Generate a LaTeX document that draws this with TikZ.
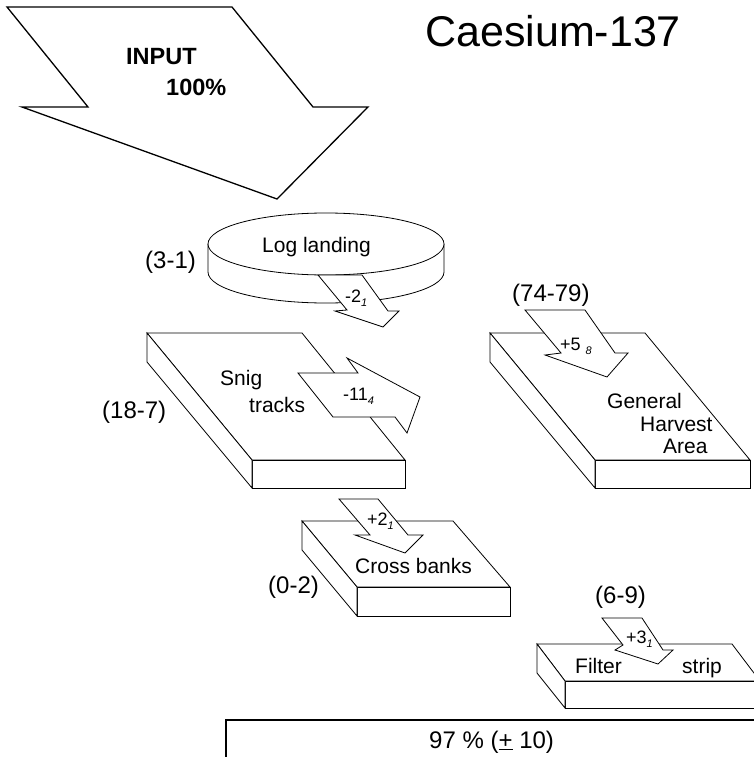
\documentclass[tikz,border=0pt]{standalone}
\usepackage{fontspec}
\setmainfont{Liberation Sans}
\begin{document}
\begin{tikzpicture}[x=1pt,y=-1pt,
  face/.style={draw=black,fill=white,line width=0.8pt,line join=miter},
  flow/.style={draw=black,fill=white,line width=0.8pt,line join=miter},
  bigflow/.style={draw=black,fill=white,line width=1.3pt,line join=miter},
  body/.style={inner sep=0pt,anchor=base west,font=\fontsize{21}{25}\selectfont},
  lab/.style={inner sep=0pt,anchor=base west,font=\fontsize{24}{28}\selectfont},
  flab/.style={inner sep=0pt,anchor=base west,font=\fontsize{18}{21}\selectfont}]
\useasboundingbox (0,0) rectangle (754,757);
\clip (0,0) rectangle (754,757);
\newcommand{\sub}[1]{\raisebox{-4pt}{\fontsize{11}{13}\selectfont\itshape #1}}

% title
\node[inner sep=0pt,anchor=base west,font=\fontsize{43}{49}\selectfont] (title) at (425,47) {Caesium-137};

% input arrow
\draw[bigflow] (7,7) -- (232,7) -- (313,107) -- (368,107) -- (277,199) -- (22,107) -- (88,107) -- cycle;
\node[inner sep=0pt,anchor=base west,font=\fontsize{23.5}{27}\selectfont\bfseries] (input) at (126,65) {INPUT};
\node[inner sep=0pt,anchor=base west,font=\fontsize{23.5}{27}\selectfont\bfseries] (inpct) at (166,96) {100\%};

% log landing cylinder
\draw[face] (208,244) -- (208,272) arc[start angle=180,end angle=0,x radius=118,y radius=31] -- (444,244);
\draw[face] (326,244) ellipse[x radius=118,y radius=31];
\node[body] (loglanding) at (262,252) {Log landing};
\node[lab] (l31) at (145,268) {(3-1)};

% snig tracks slab
\draw[face] (147,333) -- (302,333) -- (405,460) -- (252,460) -- cycle;
\draw[face] (252,460) rectangle (405,488);
\draw[face] (147,333) -- (252,460) -- (252,488) -- (147,362) -- cycle;
\node[body] (snig) at (220,385) {Snig};
\node[body] (tracks) at (249,412) {tracks};
\node[lab] (l187) at (102,418) {(18-7)};

% general harvest area slab
\draw[face] (490,333) -- (645,333) -- (750,460) -- (595,460) -- cycle;
\draw[face] (595,460) rectangle (750,488);
\draw[face] (490,333) -- (595,460) -- (595,488) -- (490,362) -- cycle;
\node[body] (general) at (607,408) {General};
\node[body] (harvest) at (640,431) {Harvest};
\node[body] (area) at (663,453) {Area};
\node[lab] (l7479) at (512,301) {(74-79)};

% cross banks slab
\draw[face] (302,521) -- (453,521) -- (510,587) -- (357,587) -- cycle;
\draw[face] (357,587) rectangle (510,616);
\draw[face] (302,521) -- (357,587) -- (357,616) -- (302,550) -- cycle;
\node[body] (cross) at (355,573) {Cross banks};
\node[lab] (l02) at (268,593) {(0-2)};

% filter strip slab
\draw[face] (537,644) -- (732,644) -- (760,681) -- (565,681) -- cycle;
\draw[face] (565,681) rectangle (770,708);
\draw[face] (537,644) -- (565,681) -- (565,708) -- (537,673) -- cycle;
\node[body] (filter) at (575,673) {Filter};
\node[body] (strip) at (682,673) {strip};
\node[lab] (l69) at (595,603) {(6-9)};

% flow arrows
\draw[flow] (318,275) -- (362,275) -- (388,311) -- (399,311) -- (383,327) -- (335,311) -- (347,310) -- cycle;
\node[flab] (f2) at (345,302) {-2\sub{1}};

\draw[flow] (298,373) -- (358,373) -- (347,358) -- (420,397) -- (407,433) -- (395,417) -- (333,417) -- cycle;
\node[flab] (f11) at (343,400) {-11\sub{4}};

\draw[flow] (525,310) -- (585,310) -- (615,353) -- (628,353) -- (607,377) -- (545,355) -- (561,353) -- cycle;
\node[flab] (f5) at (560,350) {+5\hspace{5pt}\sub{8}};

\draw[flow] (339,499) -- (378,499) -- (408,535) -- (423,535) -- (405,553) -- (355,535) -- (370,535) -- cycle;
\node[flab] (f2b) at (367,525) {+2\sub{1}};

\draw[flow] (602,618) -- (642,618) -- (663,650) -- (673,650) -- (658,664) -- (615,650) -- (623,645) -- cycle;
\node[flab] (f3) at (626,643) {+3\sub{1}};

% total box
\draw[line width=1.2pt] (226,720) rectangle (780,780);
\node[lab] (total) at (429,748) {97 \% (\underline{+} 10)};
\end{tikzpicture}
\end{document}
